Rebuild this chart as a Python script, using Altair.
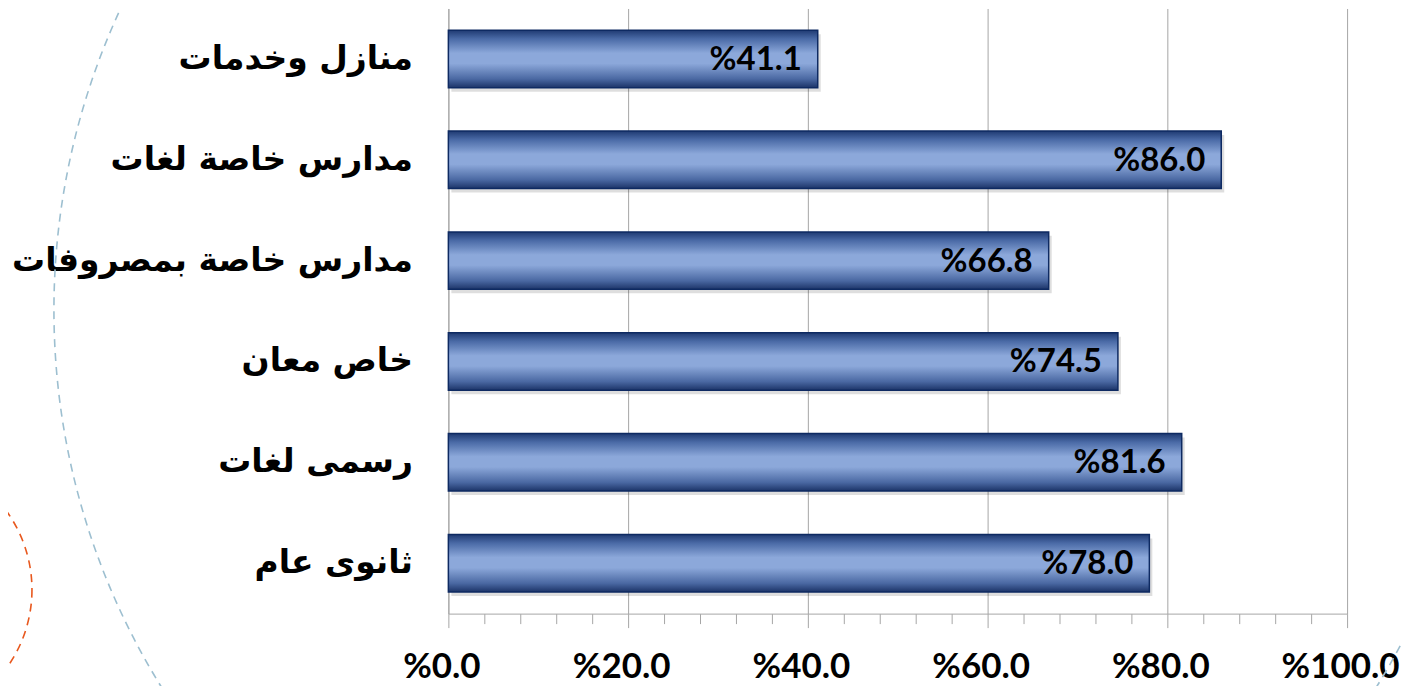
import altair as alt
import pandas as pd

categories = ["منازل وخدمات", "مدارس خاصة لغات", "مدارس خاصة بمصروفات", "خاص معان", "رسمى لغات", "ثانوى عام"]
values = [41.1, 86.0, 66.8, 74.5, 81.6, 78.0]
x_ticks = list(range(0, 101, 4))

df = pd.DataFrame({"cat": categories, "value": values})
df["label"] = ["%" + f"{v:.1f}" for v in values]

W, H = 900, 606

x_scale = alt.Scale(domain=[0, 100], nice=False)
y_scale = alt.Scale(paddingInner=0.43, paddingOuter=0.215)

x_axis = alt.Axis(
    values=x_ticks,
    tickCount=len(x_ticks) + 4,
    title=None,
    grid=True,
    gridColor="#A6A6A6",
    gridWidth=1,
    gridOpacity={"condition": {"test": "datum.value % 20 === 0", "value": 1}, "value": 0},
    domainColor="#A6A6A6",
    domainWidth=1,
    tickColor="#A6A6A6",
    tickWidth=1,
    tickSize={"condition": {"test": "datum.value % 20 === 0", "value": 14}, "value": 10},
    labelExpr="datum.value % 20 === 0 ? '%' + format(datum.value, '.1f') : ''",
    labelFont="Lato",
    labelFontWeight="bold",
    labelFontSize=35,
    labelColor="#000000",
    labelPadding=22,
    labelOverlap=False,
    labelFlush=False,
    labelOffset=-7,
)

y_axis = alt.Axis(
    title=None,
    ticks=False,
    tickSize=0,
    grid=False,
    domainColor="#A6A6A6",
    domainWidth=1,
    labelFont="DejaVu Sans",
    labelFontWeight="bold",
    labelFontSize=33,
    labelColor="#000000",
    labelPadding=36,
    labelLimit=500,
)

base = alt.Chart(df)

gradient = alt.Gradient(
    gradient="linear",
    stops=[
        alt.GradientStop(color="#1F3A72", offset=0),
        alt.GradientStop(color="#4A6AA6", offset=0.15),
        alt.GradientStop(color="#8CA8DA", offset=0.4),
        alt.GradientStop(color="#8CA8DA", offset=0.58),
        alt.GradientStop(color="#4A68A2", offset=0.85),
        alt.GradientStop(color="#1C3468", offset=1),
    ],
    x1=0, x2=0, y1=0, y2=1,
)

shadow = base.mark_bar(color="#000000", opacity=0.13, yOffset=4, y2Offset=4, xOffset=3, x2Offset=3).encode(
    x=alt.X("value:Q", scale=x_scale, axis=x_axis),
    y=alt.Y("cat:N", sort=categories, scale=y_scale, axis=y_axis),
)

bars = base.mark_bar(color=gradient, stroke="#0E2A62", strokeWidth=1.5).encode(
    x=alt.X("value:Q", scale=x_scale),
    y=alt.Y("cat:N", sort=categories, scale=y_scale),
)

labels = base.mark_text(
    align="right", baseline="middle", dx=-16, dy=1,
    font="Lato", fontWeight="bold", fontSize=33, color="#000000",
).encode(
    x=alt.X("value:Q", scale=x_scale),
    y=alt.Y("cat:N", sort=categories, scale=y_scale),
    text="label:N",
)

decor_df = pd.DataFrame({"k": ["blue", "orange"]})
blue_circle = alt.Chart(decor_df.iloc[[0]]).mark_point(
    shape="circle", filled=False, stroke="#9DBFD0", strokeWidth=1.6, strokeDash=[8, 6], opacity=1,
).encode(x=alt.value(321), y=alt.value(302), size=alt.value(1432 * 1432))
orange_circle = alt.Chart(decor_df.iloc[[1]]).mark_point(
    shape="circle", filled=False, stroke="#E8581E", strokeWidth=1.6, strokeDash=[8, 6], opacity=1,
).encode(x=alt.value(-551), y=alt.value(582), size=alt.value(268 * 268))

chart = alt.layer(blue_circle, orange_circle, shadow, bars, labels).properties(
    width=W,
    height=H,
    autosize=alt.AutoSizeParams(type="none"),
    padding={"left": 441, "top": 0, "right": 55, "bottom": 72},
    background="#FFFFFF",
).configure_view(stroke=None)

chart.save("out.html", embed_options={"renderer": "svg", "actions": False})
